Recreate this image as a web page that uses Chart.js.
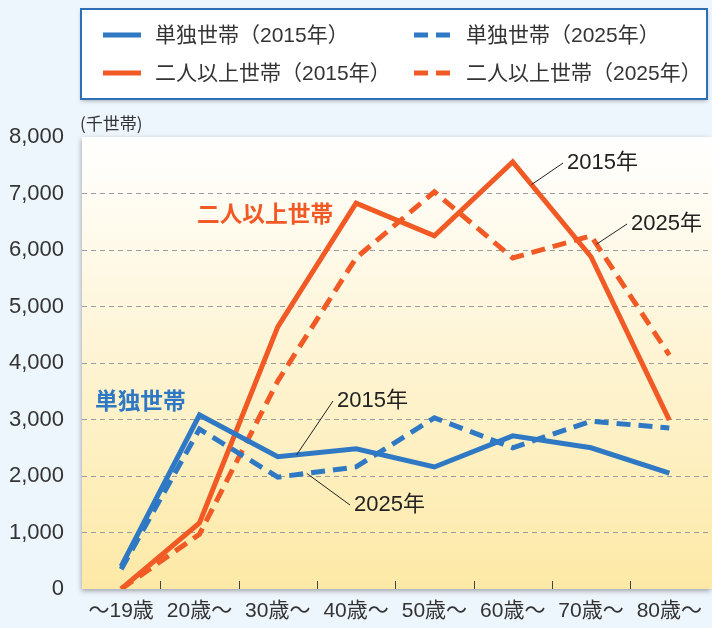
<!DOCTYPE html>
<html>
<head>
<meta charset="utf-8">
<script src="https://cdn.jsdelivr.net/npm/chart.js@4"></script>
<style>
  html, body { margin: 0; padding: 0; background: #eef6fd; overflow: hidden; }
  #wrap { width: 712px; height: 628px; position: relative; }
</style>
</head>
<body>
<div id="wrap"><canvas id="chart" width="712" height="628"></canvas></div>
<script>
const ageLabels = ['〜19歳', '20歳〜', '30歳〜', '40歳〜', '50歳〜', '60歳〜', '70歳〜', '80歳〜'];
const singles2015 = [400, 3080, 2340, 2480, 2160, 2710, 2500, 2050];
const singles2025 = [350, 2830, 1980, 2160, 3030, 2500, 2970, 2850];
const multi2015 = [0, 1170, 4640, 6830, 6250, 7560, 5880, 2990];
const multi2025 = [0, 970, 3680, 5860, 7030, 5860, 6250, 4140];
const yTicks = [0, 1000, 2000, 3000, 4000, 5000, 6000, 7000, 8000];

const BLUE = '#2f78c4';
const ORANGE = '#f15a24';
const FONT = '"Liberation Sans", "Noto Sans CJK JP", sans-serif';
const CJK = '"Noto Sans CJK JP", "Liberation Sans", sans-serif';

// page background, plot gradient + shadow
const backdrop = {
    id: 'backdrop',
    beforeDraw(chart) {
        const { ctx, chartArea: a } = chart;
        ctx.save();
        ctx.fillStyle = '#eef6fd';
        ctx.fillRect(0, 0, chart.width, chart.height);
        ctx.shadowColor = 'rgba(0,0,0,0.35)';
        ctx.shadowBlur = 5;
        ctx.shadowOffsetX = -1;
        ctx.shadowOffsetY = 2;
        const g = ctx.createLinearGradient(0, a.top, 0, a.bottom);
        g.addColorStop(0, '#ffffff');
        g.addColorStop(1, '#fde9a6');
        ctx.fillStyle = g;
        ctx.fillRect(a.left, a.top, a.right - a.left + 4, a.bottom - a.top);
        ctx.restore();
    }
};

// legend box drawn from the datasets
const legendBox = {
    id: 'legendBox',
    afterDraw(chart) {
        const ctx = chart.ctx;
        ctx.save();
        ctx.shadowColor = 'rgba(0,0,0,0.3)';
        ctx.shadowBlur = 4;
        ctx.shadowOffsetY = 2;
        ctx.fillStyle = '#fff';
        ctx.fillRect(81, 9, 626, 90);
        ctx.shadowColor = 'transparent';
        ctx.strokeStyle = '#2f6fb8';
        ctx.lineWidth = 2;
        ctx.strokeRect(81, 9, 626, 90);

        chart.data.datasets.forEach((ds, i) => {
            const col = i % 2;
            const row = Math.floor(i / 2);
            const lx = col === 0 ? 103 : 414;
            const tx = col === 0 ? 157 : 468;
            const y = row === 0 ? 35 : 73;
            ctx.strokeStyle = ds.borderColor;
            ctx.lineWidth = 5;
            ctx.setLineDash(ds.borderDash || []);
            ctx.beginPath();
            ctx.moveTo(lx, y);
            ctx.lineTo(lx + 38, y);
            ctx.stroke();
            ctx.setLineDash([]);
            ctx.fillStyle = '#333';
            ctx.font = '21px ' + FONT;
            ctx.textBaseline = 'middle';
            ctx.fillText(ds.label, tx - 2, y + 1);
        });
        ctx.restore();
    }
};

// small tick marks inside the plot at category boundaries
const innerTicks = {
    id: 'innerTicks',
    beforeDatasetsDraw(chart) {
        const { ctx, chartArea: a, scales: { x } } = chart;
        ctx.save();
        ctx.strokeStyle = '#444';
        ctx.lineWidth = 1;
        for (let i = 1; i < ageLabels.length; i++) {
            const px = Math.round((x.getPixelForValue(i - 1) + x.getPixelForValue(i)) / 2) + 0.5;
            ctx.beginPath();
            ctx.moveTo(px, a.bottom - 8);
            ctx.lineTo(px, a.bottom);
            ctx.stroke();
        }
        ctx.restore();
    }
};

// series names and year call-outs
function pointOn(chart, data, idx) {
    const i0 = Math.floor(idx), f = idx - i0;
    const v = data[i0] + (data[i0 + 1] - data[i0]) * f;
    return [chart.scales.x.getPixelForValue(idx), chart.scales.y.getPixelForValue(v)];
}

const callouts = {
    id: 'callouts',
    afterDraw(chart) {
        const ctx = chart.ctx;
        ctx.save();
        ctx.font = '17px ' + CJK;
        ctx.fillStyle = '#333';
        ctx.textBaseline = 'middle';
        ctx.fillText('(千世帯)', 80, 124);

        ctx.font = 'bold 22.7px ' + CJK;
        ctx.fillStyle = ORANGE;
        ctx.fillText('二人以上世帯', 197, 213);
        ctx.fillStyle = BLUE;
        ctx.fillText('単独世帯', 95, 400);

        const notes = [
            [multi2015, 5.24, 563, 163, '2015年'],
            [multi2025, 6.07, 627, 224, '2025年'],
            [singles2015, 2.24, 333, 401, '2015年'],
            [singles2025, 2.37, 350, 505, '2025年']
        ];
        ctx.font = '22px ' + FONT;
        notes.forEach(n => {
            const [sx, sy] = pointOn(chart, n[0], n[1]);
            ctx.strokeStyle = '#222';
            ctx.lineWidth = 1;
            ctx.beginPath();
            ctx.moveTo(sx, sy);
            ctx.lineTo(n[2], n[3]);
            ctx.stroke();
            ctx.fillStyle = '#222';
            ctx.fillText(n[4], n[2] + 4, n[3]);
        });
        ctx.restore();
    }
};

function series(label, data, color, dashed) {
    return {
        label: label,
        data: data,
        borderColor: color,
        backgroundColor: color,
        borderWidth: 5,
        borderDash: dashed ? [14, 8] : [],
        borderJoinStyle: 'miter',
        borderCapStyle: 'butt',
        pointRadius: 0,
        tension: 0,
        fill: false
    };
}

const ctx = document.getElementById('chart').getContext('2d');
new Chart(ctx, {
    type: 'line',
    data: {
        labels: ageLabels,
        datasets: [
            series('単独世帯（2015年）', singles2015, BLUE, false),
            series('単独世帯（2025年）', singles2025, BLUE, true),
            series('二人以上世帯（2015年）', multi2015, ORANGE, false),
            series('二人以上世帯（2025年）', multi2025, ORANGE, true)
        ]
    },
    options: {
        responsive: false,
        animation: false,
        layout: { padding: { top: 137, right: 0, left: 0, bottom: 0 } },
        plugins: { legend: { display: false }, tooltip: { enabled: false } },
        scales: {
            x: {
                offset: true,
                grid: { display: false, drawTicks: false },
                border: { display: false },
                ticks: { color: '#333', font: { size: 21, family: FONT }, padding: 10, maxRotation: 0, autoSkip: false },
                afterFit(scale) { scale.height = 39; }
            },
            y: {
                min: 0,
                max: 8000,
                afterBuildTicks(scale) { scale.ticks = yTicks.map(v => ({ value: v })); },
                grid: {
                    drawTicks: false,
                    lineWidth: 1,
                    color: c => (c.tick && (c.tick.value === 0 || c.tick.value === 8000)) ? 'rgba(0,0,0,0)' : '#9c9c9c'
                },
                border: { display: false, dash: [5, 4] },
                ticks: {
                    color: '#333',
                    font: { size: 22, family: FONT },
                    padding: 18,
                    callback: v => v.toLocaleString('en-US')
                },
                afterFit(scale) { scale.width = 82; }
            }
        }
    },
    plugins: [backdrop, innerTicks, callouts, legendBox]
});
</script>
</body>
</html>
